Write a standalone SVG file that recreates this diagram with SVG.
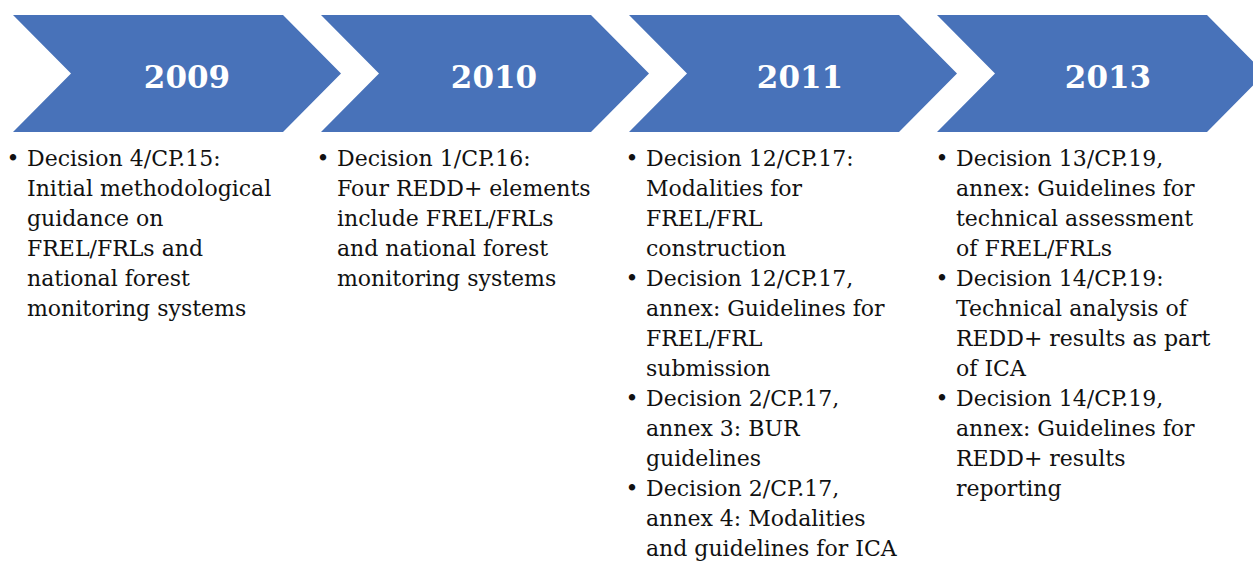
<svg xmlns="http://www.w3.org/2000/svg" width="1253" height="562" viewBox="0 0 1253 562">
<style>
.chev{fill:#4872B9;}
.year{font-family:"DejaVu Serif","Liberation Serif",serif;font-weight:bold;font-size:31px;fill:#ffffff;text-anchor:middle;}
.txt{font-family:"DejaVu Serif","Liberation Serif",serif;font-size:22px;fill:#111111;}
.bul{font-family:"DejaVu Serif","Liberation Serif",serif;font-size:22px;fill:#111111;text-anchor:middle;}
</style>
<defs>
<polygon id="chevron" points="0,15 270,15 328,73.5 270,132 0,132 58,73.5"/>
</defs>
<rect width="1253" height="562" fill="#ffffff"/>
<g id="node-2009">
<use href="#chevron" x="13" class="chev"/>
<text class="year" x="187" y="88">2009</text>
<text class="bul" x="13" y="166">•</text>
<text class="txt" x="27" y="166"><tspan x="27" y="166">Decision 4/CP.15:</tspan><tspan x="27" y="196">Initial methodological</tspan><tspan x="27" y="226">guidance on</tspan><tspan x="27" y="256">FREL/FRLs and</tspan><tspan x="27" y="286">national forest</tspan><tspan x="27" y="316">monitoring systems</tspan></text>
</g>
<g id="node-2010">
<use href="#chevron" x="321" class="chev"/>
<text class="year" x="494" y="88">2010</text>
<text class="bul" x="323" y="166">•</text>
<text class="txt"><tspan x="337" y="166">Decision 1/CP.16:</tspan><tspan x="337" y="196">Four REDD+ elements</tspan><tspan x="337" y="226">include FREL/FRLs</tspan><tspan x="337" y="256">and national forest</tspan><tspan x="337" y="286">monitoring systems</tspan></text>
</g>
<g id="node-2011">
<use href="#chevron" x="629" class="chev"/>
<text class="year" x="800" y="88">2011</text>
<text class="bul" x="632" y="166">•</text>
<text class="bul" x="632" y="286">•</text>
<text class="bul" x="632" y="406">•</text>
<text class="bul" x="632" y="496">•</text>
<text class="txt"><tspan x="646" y="166">Decision 12/CP.17:</tspan><tspan x="646" y="196">Modalities for</tspan><tspan x="646" y="226">FREL/FRL</tspan><tspan x="646" y="256">construction</tspan><tspan x="646" y="286">Decision 12/CP.17,</tspan><tspan x="646" y="316">annex: Guidelines for</tspan><tspan x="646" y="346">FREL/FRL</tspan><tspan x="646" y="376">submission</tspan><tspan x="646" y="406">Decision 2/CP.17,</tspan><tspan x="646" y="436">annex 3: BUR</tspan><tspan x="646" y="466">guidelines</tspan><tspan x="646" y="496">Decision 2/CP.17,</tspan><tspan x="646" y="526">annex 4: Modalities</tspan><tspan x="646" y="556">and guidelines for ICA</tspan></text>
</g>
<g id="node-2013">
<use href="#chevron" x="937" class="chev"/>
<text class="year" x="1108" y="88">2013</text>
<text class="bul" x="942" y="166">•</text>
<text class="bul" x="942" y="286">•</text>
<text class="bul" x="942" y="406">•</text>
<text class="txt"><tspan x="956" y="166">Decision 13/CP.19,</tspan><tspan x="956" y="196">annex: Guidelines for</tspan><tspan x="956" y="226">technical assessment</tspan><tspan x="956" y="256">of FREL/FRLs</tspan><tspan x="956" y="286">Decision 14/CP.19:</tspan><tspan x="956" y="316">Technical analysis of</tspan><tspan x="956" y="346">REDD+ results as part</tspan><tspan x="956" y="376">of ICA</tspan><tspan x="956" y="406">Decision 14/CP.19,</tspan><tspan x="956" y="436">annex: Guidelines for</tspan><tspan x="956" y="466">REDD+ results</tspan><tspan x="956" y="496">reporting</tspan></text>
</g>
</svg>
